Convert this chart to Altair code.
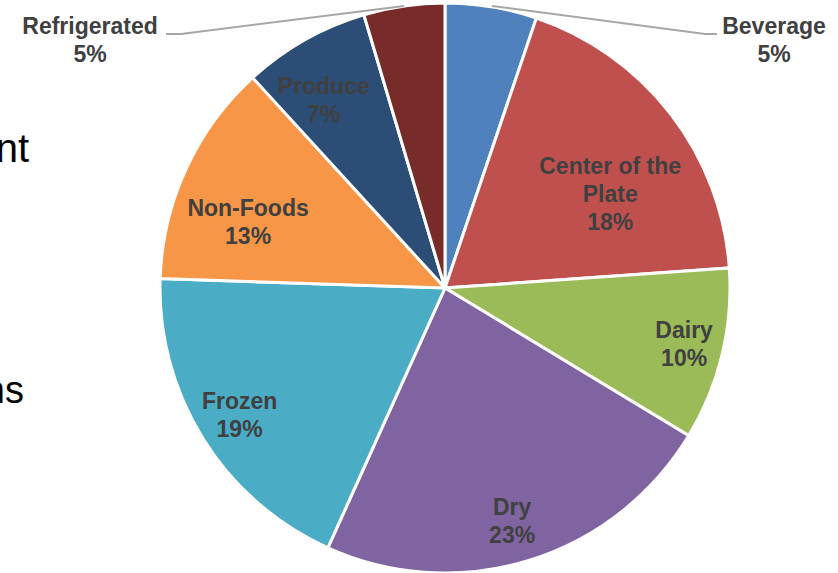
import altair as alt
import pandas as pd

categories = ["Beverage", "Center of the Plate", "Dairy", "Dry", "Frozen",
              "Non-Foods", "Produce", "Refrigerated"]
values = [5.2, 18.7, 9.8, 23.1, 18.8, 12.7, 7.2, 4.6]
pct_labels = ["5%", "18%", "10%", "23%", "19%", "13%", "7%", "5%"]
name_lines = ["Beverage", "Center of the\nPlate", "Dairy", "Dry", "Frozen",
              "Non-Foods", "Produce", "Refrigerated"]
colors = ["#4F81BD", "#C0504D", "#9BBB59", "#8064A2", "#4BACC6",
          "#F79646", "#2C4D75", "#772C2A"]
fragments = ["nt", "ns"]

df = pd.DataFrame({
    "category": categories,
    "value": values,
    "order": list(range(len(categories))),
    "label": [n + "\n" + p for n, p in zip(name_lines, pct_labels)],
})
frag_df = pd.DataFrame({"frag": fragments})

CX, CY, R = 445, 288, 285
FONT = "Liberation Sans"
LABEL_COLOR = "#404040"
FS = 23
LH = 28

pie = alt.Chart(df).mark_arc(outerRadius=R, stroke="white", strokeWidth=3).encode(
    theta=alt.Theta("value:Q", stack=True),
    order=alt.Order("order:Q"),
    x=alt.value(CX), y=alt.value(CY),
    color=alt.Color("category:N", scale=alt.Scale(domain=categories, range=colors),
                    legend=None),
)

lab_base = (
    alt.Chart(df)
    .transform_window(cum="sum(value)", sort=[alt.SortField("order")], frame=[None, 0])
    .transform_joinaggregate(total="sum(value)")
    .transform_calculate(mid="(datum.cum - datum.value / 2) / datum.total * 2 * PI")
)

# radius, dx, dy for the labels drawn inside the slices
label_place = {
    "Center of the Plate": (191, 14, -4),
    "Dairy": (246, 0, -15),
    "Dry": (243, -5, -12),
    "Frozen": (242, 0, -14),
    "Non-Foods": (208, -8, 8),
    "Produce": (224, -11, -6),
}

inner_layers = []
for cat, (r, ddx, ddy) in label_place.items():
    inner_layers.append(
        lab_base.transform_filter(alt.datum.category == cat)
        .mark_text(radius=r, dx=ddx, dy=ddy, font=FONT, fontSize=FS, fontWeight="bold",
                   color=LABEL_COLOR, lineBreak="\n", lineHeight=LH,
                   align="center", baseline="middle")
        .encode(theta=alt.Theta("mid:Q", scale=None),
                x=alt.value(CX), y=alt.value(CY), text="label:N")
    )

outer_pos = {"Beverage": (774, 27), "Refrigerated": (90, 27)}
outer_layers = []
for cat, (px, py) in outer_pos.items():
    outer_layers.append(
        alt.Chart(df).transform_filter(alt.datum.category == cat)
        .mark_text(font=FONT, fontSize=FS, fontWeight="bold", color=LABEL_COLOR,
                   lineBreak="\n", lineHeight=LH, align="center", baseline="middle")
        .encode(x=alt.value(px), y=alt.value(py), text="label:N")
    )

leader_segments = {
    "Beverage": [(492, 6, 705, 34), (705, 34, 717, 34)],
    "Refrigerated": [(404, 6, 181, 34), (181, 34, 166, 34)],
}
leader_layers = []
for cat, segs in leader_segments.items():
    for (x1, y1, x2, y2) in segs:
        leader_layers.append(
            alt.Chart(df).transform_filter(alt.datum.category == cat)
            .mark_rule(color="#A6A6A6", strokeWidth=2)
            .encode(x=alt.value(x1), y=alt.value(y1),
                    x2=alt.value(x2), y2=alt.value(y2))
        )

frag_pos = [(29, 162, 40), (24, 403, 38)]
frag_layers = []
for f, (px, py, fs) in zip(fragments, frag_pos):
    frag_layers.append(
        alt.Chart(frag_df).transform_filter(alt.datum.frag == f)
        .mark_text(font=FONT, fontSize=fs, color="#000000", align="right",
                   baseline="alphabetic")
        .encode(x=alt.value(px), y=alt.value(py), text="frag:N")
    )

chart = alt.layer(
    pie, *leader_layers, *inner_layers, *outer_layers, *frag_layers
).properties(
    width=838, height=573,
    autosize=alt.AutoSizeParams(type="none"),
    padding=0,
).configure_view(stroke=None)

chart.save("out.html", embed_options={"renderer": "svg", "actions": False})
